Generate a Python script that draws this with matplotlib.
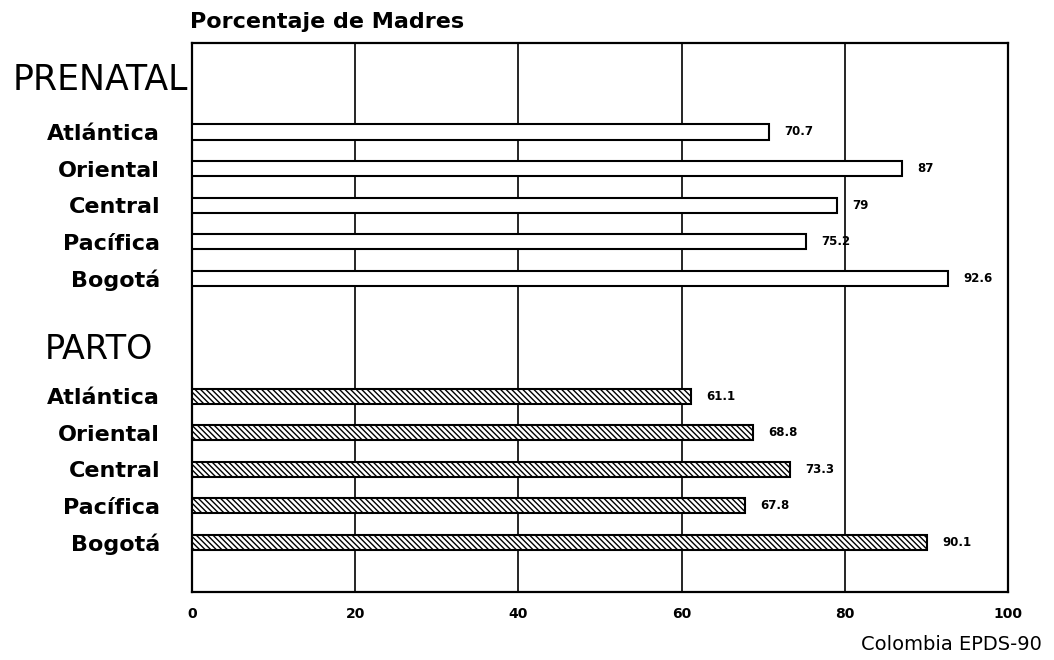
import numpy as np
import matplotlib.pyplot as plt

# data
regions = ["Atlántica", "Oriental", "Central", "Pacífica", "Bogotá"]
prenatal = [70.7, 87, 79, 75.2, 92.6]
parto = [61.1, 68.8, 73.3, 67.8, 90.1]
prenatal_labels = ["70.7", "87", "79", "75.2", "92.6"]
parto_labels = ["61.1", "68.8", "73.3", "67.8", "90.1"]
xticks = [0, 20, 40, 60, 80, 100]

plt.rcParams['font.family'] = ['DejaVu Sans']
plt.rcParams['hatch.linewidth'] = 1.0

fig = plt.figure(figsize=(10.54, 6.6), dpi=100)
W, H = 1054, 660
ax = fig.add_axes([192 / W, 1 - 592 / H, (1008 - 192) / W, (592 - 43) / H])

#%% slot positions (one slot per bar row)
gap = 3.21
y_pre = np.arange(len(regions))
y_par = y_pre[-1] + gap + np.arange(len(regions))
bar_h = 0.41

ax.barh(y_pre, prenatal, height=bar_h, color='white', edgecolor='black',
        linewidth=1.5, zorder=3)
ax.barh(y_par, parto, height=bar_h, color='white', edgecolor='black',
        linewidth=1.5, hatch='\\\\\\\\\\\\', zorder=3)

for yy, vv, lab in zip(y_pre, prenatal, prenatal_labels):
    ax.annotate(lab, (vv, yy), xytext=(11, 0), textcoords='offset points',
                ha='left', va='center', fontsize=8.5, fontweight='bold',
                zorder=4)
for yy, vv, lab in zip(y_par, parto, parto_labels):
    ax.annotate(lab, (vv, yy), xytext=(11, 0), textcoords='offset points',
                ha='left', va='center', fontsize=8.5, fontweight='bold',
                zorder=4)

ax.set_xlim(0, 100)
ax.set_ylim(y_par[-1] + 1.35, -2.43)

ax.set_xticks(xticks)
ax.set_xticklabels([str(t) for t in xticks], fontsize=10, fontweight='bold')
ax.set_yticks(np.concatenate([y_pre, y_par]))
ax.set_yticklabels(regions + regions, fontsize=16, fontweight='bold')
ax.tick_params(axis='x', length=0, pad=11)
ax.tick_params(axis='y', length=0, pad=23)

for x in xticks[1:-1]:
    ax.axvline(x, color='black', linewidth=1.2, zorder=1)
for sp in ax.spines.values():
    sp.set_linewidth(1.6)

# group headers
trans = ax.get_yaxis_transform()
ax.text(-0.005, y_pre[0] - 1.42, "PRENATAL", transform=trans, ha='right',
        va='center', fontsize=25, clip_on=False)
ax.text(-0.048, y_par[0] - 1.27, "PARTO", transform=trans, ha='right',
        va='center', fontsize=24, clip_on=False)

fig.text(190 / W, 1 - 22 / H, "Porcentaje de Madres", ha='left', va='center',
         fontsize=16, fontweight='bold')
fig.text(1042 / W, 1 - 645 / H, "Colombia EPDS-90", ha='right', va='center',
         fontsize=14)

plt.savefig("out.png", dpi=100)
